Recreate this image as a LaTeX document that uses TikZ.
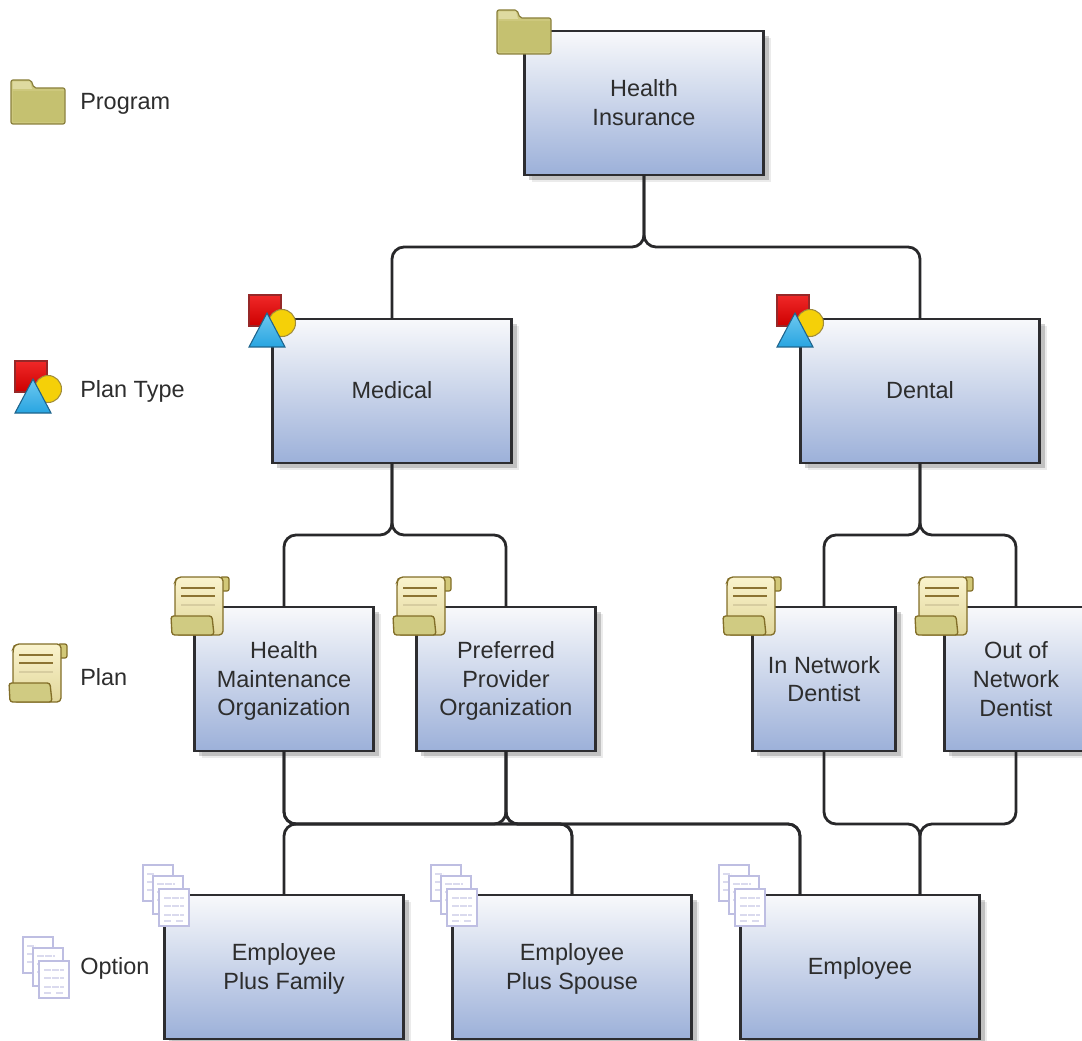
\documentclass[tikz,border=0pt]{standalone}
\usepackage{fontspec}
\setmainfont{Liberation Sans}
\usetikzlibrary{shadows}

\newcommand{\boxstrut}{\rule[-5.5pt]{0pt}{21.5pt}}
\newcommand{\boxendstrut}{\rule[-3.5pt]{0pt}{19.5pt}}

\tikzset{
  every pic/.style={yscale=-1},
  planbox/.style={rectangle,draw={rgb, 255:red, 45; green, 45; blue, 48 },line width=2.1pt,inner sep=0pt,outer sep=0pt,
    top color={rgb, 255:red, 248; green, 249; blue, 251 },bottom color={rgb, 255:red, 156; green, 176; blue, 217 },
    text={rgb, 255:red, 45; green, 45; blue, 45 },font=\fontsize{17.6}{21.5}\selectfont,align=center,
    drop shadow={shadow xshift=5.5pt,shadow yshift=-5.5pt,fill=black,opacity=0.08},
    drop shadow={shadow xshift=3.75pt,shadow yshift=-3.75pt,fill=black,opacity=0.18}},
  widebox/.style={planbox,minimum width=179.5pt,minimum height=108pt},
  midbox/.style={planbox,minimum width=134.5pt,minimum height=108pt},
  narrowbox/.style={planbox,minimum width=107.5pt,minimum height=108pt},
  legendtext/.style={anchor=base west,inner sep=0pt,text={rgb, 255:red, 45; green, 45; blue, 45 },font=\fontsize{17.6}{21.5}\selectfont},
  wire/.style={draw={rgb, 255:red, 40; green, 40; blue, 42 },line width=2.1pt,rounded corners=9pt},
  pageicon/.style={draw={rgb, 255:red, 190; green, 190; blue, 226 },line width=1pt,fill=white},
  pageline/.style={draw={rgb, 255:red, 218; green, 218; blue, 238 },line width=0.9pt,dash pattern={on 5pt off 1pt}},
  pics/foldericon/.style={code={
    \draw[draw={rgb, 255:red, 138; green, 128; blue, 62 },line width=0.9pt,fill={rgb, 255:red, 205; green, 200; blue, 125 },rounded corners=1.5pt]
      (0,44) -- (0,0) -- (20,0) -- (23,8) -- (54,8) -- (54,44) -- cycle;
    \fill[fill={rgb, 255:red, 222; green, 218; blue, 160 }] (1.5,1.5) -- (19,1.5) -- (21,9) -- (1.5,9) -- cycle;
    \fill[fill={rgb, 255:red, 197; green, 193; blue, 112 }] (1.5,11) rectangle (52.5,42.5);
  }},
  pics/plantypeicon/.style={code={
    \draw[draw={rgb, 255:red, 150; green, 40; blue, 40 },line width=0.8pt,top color={rgb, 255:red, 240; green, 40; blue, 40 },bottom color={rgb, 255:red, 205; green, 0; blue, 0 }]
      (0,0) rectangle (32,31);
    \draw[draw={rgb, 255:red, 160; green, 140; blue, 60 },line width=0.8pt,fill={rgb, 255:red, 245; green, 208; blue, 8 }]
      (33,28) circle [radius=13.5];
    \draw[draw={rgb, 255:red, 30; green, 100; blue, 140 },line width=0.8pt,top color={rgb, 255:red, 110; green, 200; blue, 240 },bottom color={rgb, 255:red, 40; green, 165; blue, 225 }]
      (0,52) -- (18,18) -- (36,52) -- cycle;
  }},
  pics/scrollicon/.style={code={
    \draw[draw={rgb, 255:red, 130; green, 110; blue, 40 },line width=0.9pt,fill={rgb, 255:red, 210; green, 200; blue, 120 },rounded corners=1.5pt]
      (49,0) -- (58,0) -- (58,14) -- (49,14) -- cycle;
    \draw[draw={rgb, 255:red, 130; green, 110; blue, 40 },line width=1pt,top color={rgb, 255:red, 250; green, 243; blue, 205 },bottom color={rgb, 255:red, 225; green, 215; blue, 155 },rounded corners=3pt]
      (6,0) -- (52,0) -- (52,58) -- (4,58) -- (4,5) -- cycle;
    \draw[draw={rgb, 255:red, 140; green, 115; blue, 50 },line width=0.9pt] (10,11) -- (44,11);
    \draw[draw={rgb, 255:red, 140; green, 115; blue, 50 },line width=0.9pt] (10,19) -- (44,19);
    \draw[draw={rgb, 255:red, 215; green, 205; blue, 160 },line width=1.6pt] (10,28) -- (44,28);
    \draw[draw={rgb, 255:red, 130; green, 110; blue, 40 },line width=1pt,fill={rgb, 255:red, 208; green, 203; blue, 130 },rounded corners=2pt]
      (0,39) -- (41,39) -- (43,58) -- (1,58) -- cycle;
  }},
  pics/optionicon/.style={code={
    \draw[pageicon] (0,0) rectangle (30,36);
    \draw[pageline] (4,9) -- (12,9) (4,17) -- (12,17) (4,25) -- (12,25);
    \draw[pageicon] (10,11) rectangle (40,49);
    \draw[pageline] (14,19) -- (32,19) (14,27) -- (18,27) (14,35) -- (18,35);
    \draw[pageicon] (16,24) rectangle (46,61);
    \draw[pageline] (21,33) -- (41,33) (21,41) -- (41,41) (21,50) -- (41,50);
    \draw[pageline] (21,56) -- (29,56) (33,56) -- (41,56);
  }},
}

\begin{document}
\begin{tikzpicture}[x=0.75pt,y=0.75pt,yscale=-1,xscale=1]
\useasboundingbox (0,0) rectangle (1082,1041);
\clip (0,0) rectangle (1082,1041);

%Boxes: program and plan types
\node[widebox] (insurance) at (644,103) {\boxstrut Health\\Insurance\boxendstrut};
\node[widebox] (medical) at (392,391) {\boxstrut Medical};
\node[widebox] (dental) at (920,391) {\boxstrut Dental};
%Boxes: plans
\node[midbox] (hmo) at (284,679) {\boxstrut Health\\Maintenance\\Organization\boxendstrut};
\node[midbox] (ppo) at (506,679) {\boxstrut Preferred\\Provider\\Organization\boxendstrut};
\node[narrowbox] (innet) at (824,679) {\boxstrut In Network\\Dentist\boxendstrut};
\node[narrowbox] (outnet) at (1016,679) {\boxstrut Out of\\Network\\Dentist\boxendstrut};
%Boxes: options
\node[widebox] (family) at (284,967) {\boxstrut Employee\\Plus Family\boxendstrut};
\node[widebox] (spouse) at (572,967) {\boxstrut Employee\\Plus Spouse\boxendstrut};
\node[widebox] (employee) at (860,967) {\boxstrut Employee};

%Bends and free ends of the connectors
\coordinate (busTop) at (644,247);
\coordinate (busMedical) at (392,535);
\coordinate (busDental) at (920,535);
\coordinate (busHmo) at (284,824);
\coordinate (busPpo) at (506,824);
\coordinate (busInnet) at (824,824);
\coordinate (busOutnet) at (1016,824);
\coordinate (employeeLeft) at (800,895);
\coordinate (employeeRight) at (920,895);

%Connectors: program to plan types
\draw[wire] (insurance.south) -- (busTop) -| (medical.north);
\draw[wire] (insurance.south) -- (busTop) -| (dental.north);
%Connectors: plan types to plans
\draw[wire] (medical.south) -- (busMedical) -| (hmo.north);
\draw[wire] (medical.south) -- (busMedical) -| (ppo.north);
\draw[wire] (dental.south) -- (busDental) -| (innet.north);
\draw[wire] (dental.south) -- (busDental) -| (outnet.north);
%Connectors: plans to options
\draw[wire] (hmo.south) -- (busHmo) -| (spouse.north);
\draw[wire] (hmo.south) -- (busHmo) -| (employeeLeft);
\draw[wire] (family.north) -- (busHmo) -| (ppo.south);
\draw[wire] (ppo.south) -- (busPpo) -| (spouse.north);
\draw[wire] (ppo.south) -- (busPpo) -| (employeeLeft);
\draw[wire] (innet.south) -- (busInnet) -| (employeeRight);
\draw[wire] (outnet.south) -- (busOutnet) -| (employeeRight);

%Icons on the boxes
\path (497,10) pic {foldericon};
\path (249,295) pic {plantypeicon};
\path (777,295) pic {plantypeicon};
\path (171,577) pic {scrollicon};
\path (393,577) pic {scrollicon};
\path (723,577) pic {scrollicon};
\path (915,577) pic {scrollicon};
\path (143,865) pic {optionicon};
\path (431,865) pic {optionicon};
\path (719,865) pic {optionicon};

%Legend
\path (11,80) pic {foldericon};
\path (15,361) pic {plantypeicon};
\path (9,644) pic {scrollicon};
\path (23,937) pic {optionicon};
\node[legendtext] (legendprogram) at (80,109.5) {Program};
\node[legendtext] (legendplantype) at (80,397.5) {Plan Type};
\node[legendtext] (legendplan) at (80,685.5) {Plan};
\node[legendtext] (legendoption) at (80,974) {Option};

\end{tikzpicture}
\end{document}
